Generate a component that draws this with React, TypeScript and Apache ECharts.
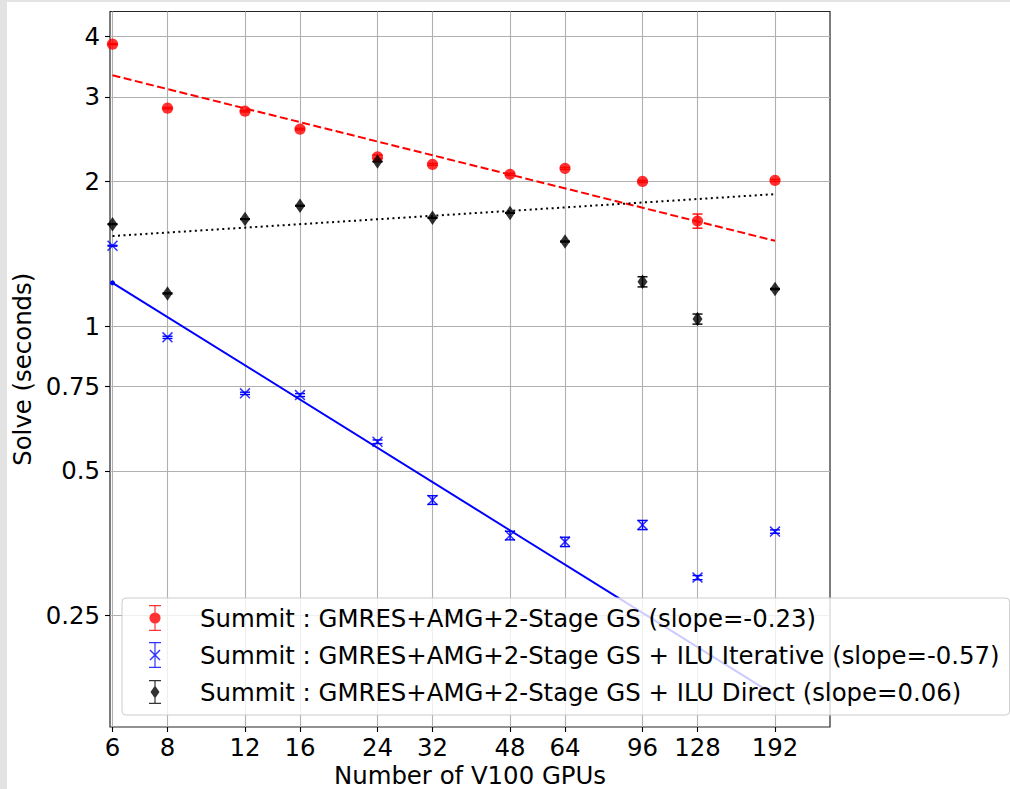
import { useEffect, useRef } from 'react';
import * as echarts from 'echarts';

// GPU counts used on Summit
const gpus = [6, 8, 12, 16, 24, 32, 48, 64, 96, 128, 192];

// Solve times (seconds) and their spread
const gsSolve = [3.86, 2.84, 2.8, 2.57, 2.25, 2.17, 2.07, 2.13, 2.0, 1.655, 2.01];
const gsErr = [0.01, 0.01, 0.01, 0.01, 0.02, 0.01, 0.01, 0.01, 0.01, 0.056, 0.01];

const iterSolve = [1.47, 0.948, 0.725, 0.719, 0.575, 0.435, 0.367, 0.356, 0.386, 0.3, 0.374];
const iterErr = [0.003, 0.005, 0.004, 0.005, 0.005, 0.009, 0.0075, 0.008, 0.0085, 0.003, 0.003];

const directSolve = [1.63, 1.17, 1.67, 1.78, 2.2, 1.68, 1.72, 1.5, 1.237, 1.035, 1.195];
const directErr = [0.003, 0.003, 0.003, 0.003, 0.003, 0.003, 0.003, 0.003, 0.03, 0.025, 0.003];

// Power-law fits, end points at 6 and 192 GPUs
const gsFit = [[6, 3.325], [192, 1.505]];
const iterFit = [[6, 1.231], [192, 0.1707]];
const directFit = [[6, 1.54], [192, 1.882]];

// Axis ticks
const xTicks = [6, 8, 12, 16, 24, 32, 48, 64, 96, 128, 192];
const yTicks = [0.25, 0.5, 0.75, 1, 2, 3, 4];

const seriesNames = [
  'Summit : GMRES+AMG+2-Stage GS (slope=-0.23)',
  'Summit : GMRES+AMG+2-Stage GS + ILU Iterative (slope=-0.57)',
  'Summit : GMRES+AMG+2-Stage GS + ILU Direct (slope=0.06)',
];

const FONT = '"DejaVu Sans", sans-serif';
const FONT_SIZE = 24.4;

// Legend icons: marker with an error bar, drawn in a 63x26 box (marker centred at x=23)
const boxCorners = 'M0,0 L0.01,0 L0,0.01 Z M63,26 L62.99,26 L63,25.99 Z ';
const errBar = 'M22.4,0 H23.6 V26 H22.4 Z M17,0 H29 V1.3 H17 Z M17,24.7 H29 V26 H17 Z ';
const redIcon =
  'path://' + boxCorners + errBar + 'M17.4,13 A5.6,5.6 0 1,1 28.6,13 A5.6,5.6 0 1,1 17.4,13 Z';
const blueIcon =
  'path://' +
  boxCorners +
  errBar +
  'M17.5,8.5 L18.5,7.5 L28.5,17.5 L27.5,18.5 Z M27.5,7.5 L28.5,8.5 L18.5,18.5 L17.5,17.5 Z';
const blackIcon =
  'path://' + boxCorners + 'M22.4,1 H23.6 V25 H22.4 Z M17,1 H29 V2.3 H17 Z M17,23.7 H29 V25 H17 Z ' +
  'M23,6.5 L27.5,13 L23,19.5 L18.5,13 Z';

const crossSymbol = 'path://M0,1 L1,0 L10,9 L9,10 Z M9,0 L10,1 L1,10 L0,9 Z';

const fmt = (v: number) => String(parseFloat(Number(v).toPrecision(6)));

function errorSeries(name: string, ys: number[], errs: number[], color: string) {
  return {
    type: 'custom',
    name,
    z: 1,
    silent: true,
    data: gpus.map((x, i) => [x, ys[i], errs[i]]),
    encode: { x: 0, y: 1 },
    renderItem: (_params: any, api: any) => {
      const x = api.value(0);
      const y = api.value(1);
      const e = api.value(2);
      const top = api.coord([x, y + e]);
      const bot = api.coord([x, y - e]);
      const hw = 5;
      const style = { stroke: color, lineWidth: 1.4 };
      return {
        type: 'group',
        children: [
          { type: 'line', shape: { x1: top[0], y1: top[1], x2: bot[0], y2: bot[1] }, style },
          { type: 'line', shape: { x1: top[0] - hw, y1: top[1], x2: top[0] + hw, y2: top[1] }, style },
          { type: 'line', shape: { x1: bot[0] - hw, y1: bot[1], x2: bot[0] + hw, y2: bot[1] }, style },
        ],
      };
    },
  };
}

export default function App() {
  const ref = useRef<HTMLDivElement>(null);

  useEffect(() => {
    if (!ref.current) return;
    const chart = echarts.init(ref.current, null, { renderer: 'svg' });

    const axisText = { fontFamily: FONT, fontSize: FONT_SIZE, color: '#000' };

    chart.setOption({
      animation: false,
      backgroundColor: '#ffffff',
      grid: {
        left: 103,
        top: 9.5,
        width: 720,
        height: 715.5,
        containLabel: false,
        outerBoundsMode: 'none',
        show: true,
        borderColor: '#262626',
        borderWidth: 1.2,
        backgroundColor: 'transparent',
      },
      xAxis: {
        type: 'log',
        logBase: 10,
        min: 5.922,
        max: 256,
        name: 'Number of V100 GPUs',
        nameLocation: 'middle',
        nameGap: 33,
        nameTextStyle: axisText,
        axisLine: { show: false },
        axisTick: {
          show: true,
          inside: false,
          length: 5,
          customValues: xTicks,
          lineStyle: { color: '#000', width: 1.1 },
        },
        axisLabel: { ...axisText, customValues: xTicks, margin: 8, formatter: fmt },
        splitLine: { show: true, lineStyle: { color: '#b0b0b0', width: 1.1 } },
        minorTick: { show: false },
        minorSplitLine: { show: false },
      },
      yAxis: {
        type: 'log',
        logBase: 10,
        min: 0.1467,
        max: 4.513,
        name: 'Solve (seconds)',
        nameLocation: 'middle',
        nameGap: 72,
        nameTextStyle: axisText,
        axisLine: { show: false },
        axisTick: {
          show: true,
          inside: false,
          length: 5,
          customValues: yTicks,
          lineStyle: { color: '#000', width: 1.1 },
        },
        axisLabel: { ...axisText, customValues: yTicks, margin: 10, formatter: fmt },
        splitLine: { show: true, lineStyle: { color: '#b0b0b0', width: 1.1 } },
        minorTick: { show: false },
        minorSplitLine: { show: false },
      },
      legend: {
        orient: 'vertical',
        left: 115,
        top: 596,
        z: 10,
        padding: [7, 10, 10, 10],
        itemWidth: 63,
        itemHeight: 26,
        itemGap: 11,
        backgroundColor: 'rgba(255,255,255,0.8)',
        borderColor: '#cccccc',
        borderWidth: 1,
        borderRadius: 4,
        selectedMode: false,
        textStyle: { fontFamily: FONT, fontSize: FONT_SIZE, color: '#000', lineHeight: 26 },
        data: [
          { name: seriesNames[0], icon: redIcon, itemStyle: { color: '#ff0000', borderWidth: 0 } },
          { name: seriesNames[1], icon: blueIcon, itemStyle: { color: '#0000ff', borderWidth: 0 } },
          { name: seriesNames[2], icon: blackIcon, itemStyle: { color: '#000000', borderWidth: 0 } },
        ],
      },
      series: [
        errorSeries('gs-err', gsSolve, gsErr, '#ff0000'),
        {
          type: 'scatter',
          name: seriesNames[0],
          z: 2,
          symbol: 'circle',
          symbolSize: 11.2,
          itemStyle: { color: '#ff0000' },
          data: gpus.map((x, i) => [x, gsSolve[i]]),
        },
        errorSeries('iter-err', iterSolve, iterErr, '#0000ff'),
        {
          type: 'scatter',
          name: seriesNames[1],
          z: 2,
          symbol: crossSymbol,
          symbolSize: 11,
          itemStyle: { color: '#0000ff' },
          data: gpus.map((x, i) => [x, iterSolve[i]]),
        },
        errorSeries('direct-err', directSolve, directErr, '#000000'),
        {
          type: 'scatter',
          name: seriesNames[2],
          z: 2,
          symbol: 'diamond',
          symbolSize: [10, 14.5],
          itemStyle: { color: '#000000' },
          data: gpus.map((x, i) => [x, directSolve[i]]),
        },
        {
          type: 'line',
          name: 'gs-fit',
          z: 3,
          silent: true,
          symbol: 'none',
          lineStyle: { color: '#ff0000', width: 2, type: [8, 3.5] },
          data: gsFit,
        },
        {
          type: 'line',
          name: 'iter-fit',
          z: 3,
          silent: true,
          symbol: 'circle',
          symbolSize: 5,
          showSymbol: true,
          itemStyle: { color: '#0000ff' },
          lineStyle: { color: '#0000ff', width: 2 },
          data: [{ value: iterFit[0] }, { value: iterFit[1], symbol: 'none' }],
        },
        {
          type: 'line',
          name: 'direct-fit',
          z: 3,
          silent: true,
          symbol: 'none',
          lineStyle: { color: '#000000', width: 2, type: [2, 3.5] },
          data: directFit,
        },
      ],
    });

    return () => chart.dispose();
  }, []);

  return (
    <div
      style={{
        position: 'fixed',
        left: 0,
        top: 0,
        width: 1010,
        height: 789,
        background: '#e3e3e3',
        overflow: 'hidden',
      }}
    >
      <div
        ref={ref}
        style={{ position: 'absolute', left: 7, top: 2, width: 1003, height: 787, background: '#fff' }}
      />
    </div>
  );
}
